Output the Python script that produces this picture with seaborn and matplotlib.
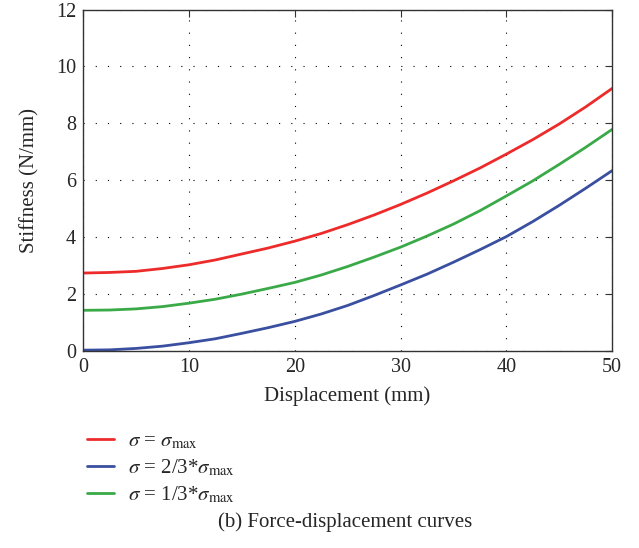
import pandas as pd
import matplotlib
matplotlib.use("Agg")
import matplotlib.pyplot as plt
import seaborn as sns

# values
displacement = [0, 2.5, 5, 7.5, 10, 12.5, 15, 17.5, 20, 22.5, 25,
                27.5, 30, 32.5, 35, 37.5, 40, 42.5, 45, 47.5, 50]
stiff_max = [2.74, 2.76, 2.8, 2.9, 3.03, 3.2, 3.41, 3.62, 3.86, 4.13, 4.44,
             4.78, 5.15, 5.55, 5.98, 6.43, 6.92, 7.43, 7.98, 8.58, 9.23]
stiff_two_thirds = [0.03, 0.04, 0.09, 0.17, 0.29, 0.43, 0.62, 0.82, 1.04, 1.3, 1.6,
                    1.95, 2.32, 2.7, 3.12, 3.56, 4.02, 4.55, 5.12, 5.72, 6.34]
stiff_one_third = [1.43, 1.44, 1.48, 1.56, 1.68, 1.82, 2.0, 2.2, 2.41, 2.67, 2.97,
                   3.3, 3.65, 4.04, 4.46, 4.93, 5.45, 5.98, 6.56, 7.16, 7.79]
labels = [r"$\sigma$ = $\sigma_{\mathrm{max}}$",
          r"$\sigma$ = 2/3*$\sigma_{\mathrm{max}}$",
          r"$\sigma$ = 1/3*$\sigma_{\mathrm{max}}$"]
colors = ["#ee2b2b", "#3a4fa0", "#3aaa48"]

rows = []
for lab, vals in zip(labels, [stiff_max, stiff_two_thirds, stiff_one_third]):
    for x, y in zip(displacement, vals):
        rows.append({"Displacement": x, "Stiffness": y, "case": lab})
df = pd.DataFrame(rows)

sns.set_style("white")
plt.rcParams["font.family"] = ["Liberation Serif", "DejaVu Serif"]
plt.rcParams["mathtext.fontset"] = "stix"

fig = plt.figure(figsize=(6.39, 5.48), dpi=100)
ax = fig.add_axes([0.130, 0.3595, 0.828, 0.623])

sns.lineplot(data=df, x="Displacement", y="Stiffness", hue="case",
             palette=colors, linewidth=2, ax=ax, legend=False)

ax.set_xlim(0, 50)
ax.set_ylim(0, 12)
ax.set_xticks([0, 10, 20, 30, 40, 50])
ax.set_yticks([0, 2, 4, 6, 8, 10, 12])
ax.grid(True, color="black", linestyle=(0, (1, 10)), linewidth=0.8)
ax.tick_params(direction="in", length=5, labelsize=14.5, top=True, right=True,
               color="#333333", pad=5)
for s in ax.spines.values():
    s.set_color("#333333")
    s.set_linewidth(1.0)

ax.set_xlabel("Displacement (mm)", fontsize=15, labelpad=7)
ax.set_ylabel("Stiffness (N/mm)", fontsize=15, labelpad=12)

handles = [plt.Line2D([], [], color=c, linewidth=2) for c in colors]
fig.legend(handles, labels, loc="upper left", bbox_to_anchor=(0.123, 0.228),
           frameon=False, fontsize=15, handlelength=1.3, labelspacing=0.3,
           handletextpad=0.65, borderaxespad=0)

fig.text(0.54, 0.047, "(b) Force-displacement curves", ha="center",
         va="center", fontsize=15)

fig.savefig("out.png", dpi=100)
